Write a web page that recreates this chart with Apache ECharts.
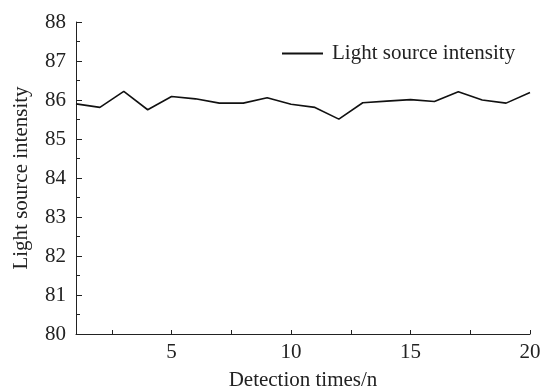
<!DOCTYPE html>
<html>
<head>
    <meta charset="utf-8">
    <title>Light source intensity</title>
    <script src="https://cdn.jsdelivr.net/npm/echarts@6/dist/echarts.min.js"></script>
    <style>
        html, body { margin: 0; padding: 0; background: #fff; }
        #chart { width: 542px; height: 391px; }
    </style>
</head>
<body>
    <div id="chart"></div>
    <script type="text/javascript">
        // detection number (x) and measured intensity (y)
        const detectionTimes = [1, 2, 3, 4, 5, 6, 7, 8, 9, 10, 11, 12, 13, 14, 15, 16, 17, 18, 19, 20];
        const intensity = [85.90, 85.81, 86.22, 85.75, 86.09, 86.03, 85.92, 85.92, 86.06, 85.89,
                           85.81, 85.51, 85.93, 85.97, 86.01, 85.96, 86.21, 86.00, 85.92, 86.19];
        const xTickValues = [2.5, 5, 7.5, 10, 12.5, 15, 17.5, 20];
        const xLabelValues = [5, 10, 15, 20];

        const font = 'Liberation Serif, Times New Roman, serif';
        const chart = echarts.init(document.getElementById('chart'));

        const option = {
            animation: false,
            textStyle: { fontFamily: font, color: '#222' },
            grid: { left: 76, right: 12, top: 22, bottom: 57, outerBoundsMode: 'none' },
            legend: {
                left: 282,
                top: 43,
                padding: 0,
                itemWidth: 41,
                itemHeight: 2,
                icon: 'rect',
                itemStyle: { color: '#111' },
                textStyle: { fontFamily: font, fontSize: 21, color: '#222', padding: [0, 0, 0, 4] },
                data: ['Light source intensity']
            },
            xAxis: {
                type: 'value',
                min: 1,
                max: 20,
                name: 'Detection times/n',
                nameLocation: 'middle',
                nameGap: 36,
                nameTextStyle: { fontFamily: font, fontSize: 21, color: '#222' },
                axisLine: { lineStyle: { color: '#222', width: 1 } },
                axisTick: { inside: true, length: 4, customValues: xTickValues, lineStyle: { color: '#222' } },
                axisLabel: { customValues: xLabelValues, fontFamily: font, fontSize: 21, color: '#222', margin: 8 },
                splitLine: { show: false }
            },
            yAxis: {
                type: 'value',
                min: 80,
                max: 88,
                interval: 1,
                name: 'Light source intensity',
                nameLocation: 'middle',
                nameGap: 44,
                nameTextStyle: { fontFamily: font, fontSize: 21, color: '#222' },
                axisLine: { show: true, lineStyle: { color: '#222', width: 1 } },
                axisTick: { show: true, inside: true, length: 6, lineStyle: { color: '#222' } },
                minorTick: { show: true, splitNumber: 2, length: 4, lineStyle: { color: '#222' } },
                axisLabel: { fontFamily: font, fontSize: 21, color: '#222', margin: 10 },
                splitLine: { show: false }
            },
            series: [{
                name: 'Light source intensity',
                type: 'line',
                symbol: 'none',
                data: detectionTimes.map((x, i) => [x, intensity[i]]),
                lineStyle: { color: '#111', width: 1.6 },
                itemStyle: { color: '#111' }
            }]
        };
        chart.setOption(option);
    </script>
</body>
</html>
